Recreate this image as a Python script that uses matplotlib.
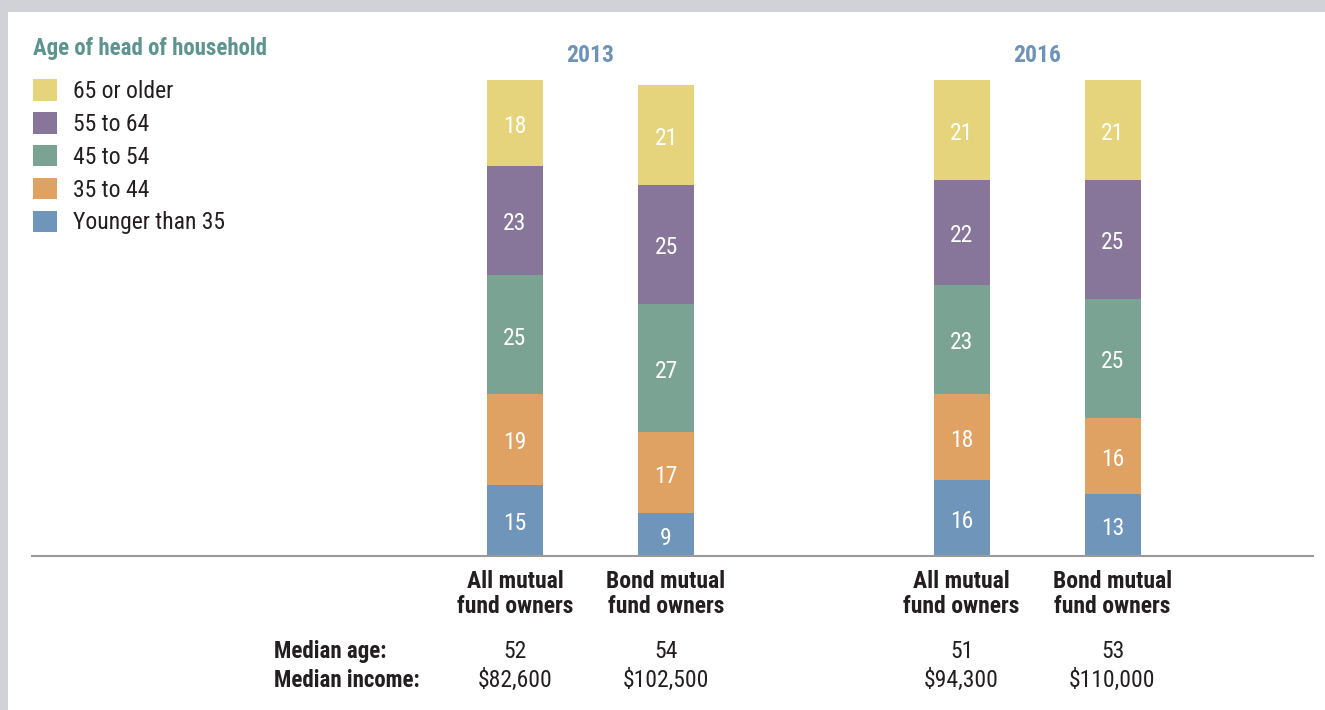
import numpy as np
import matplotlib
matplotlib.use("Agg")
import matplotlib.pyplot as plt
from matplotlib.patches import Rectangle
from matplotlib import font_manager
import matplotlib.transforms as mtransforms

################ Data ################
years = ["2013", "2016"]
groups = ["All mutual\nfund owners", "Bond mutual\nfund owners",
          "All mutual\nfund owners", "Bond mutual\nfund owners"]
age_bands = ["Younger than 35", "35 to 44", "45 to 54", "55 to 64", "65 or older"]
younger_35 = [15, 9, 16, 13]
age_35_44 = [19, 17, 18, 16]
age_45_54 = [25, 27, 23, 25]
age_55_64 = [23, 25, 22, 25]
age_65_up = [18, 21, 21, 21]
median_age = ["52", "54", "51", "53"]
median_income = ["$82,600", "$102,500", "$94,300", "$110,000"]

colors = ["#7095BA", "#E0A263", "#7BA393", "#877699", "#E6D47C"]
DARK = "#231F20"

# pick the narrowest installed family we can find
installed = {f.name for f in font_manager.fontManager.ttflist}
FONT = "Lato"
for cand in ["Liberation Sans Narrow", "DejaVu Sans Condensed", "Roboto Condensed", "Lato"]:
    if cand in installed:
        FONT = cand
        break
plt.rcParams["font.family"] = [FONT, "DejaVu Sans"]
FS = 17

W, H = 1325, 710
fig = plt.figure(figsize=(W / 100, H / 100), dpi=100)
fig.patch.set_facecolor("#D1D2D7")
fig.patches.append(Rectangle((8 / W, 0), 1, 1 - 12 / H, transform=fig.transFigure,
                             facecolor="white", edgecolor="none", zorder=-5))

# axes spans the baseline rule; x in pixel-like units
ax = fig.add_axes([32 / W, (H - 556) / H, (1313 - 32) / W, 476 / H])
ax.set_facecolor("none")
ax.set_xlim(32, 1313)
ax.set_ylim(0, 100)
for s in ["top", "left", "right"]:
    ax.spines[s].set_visible(False)
ax.spines["bottom"].set_color("#9A9A9A")
ax.spines["bottom"].set_linewidth(1.5)
ax.set_yticks([])

group_centers = [590.5, 1037]
offset = 75.5
xpos = np.array([c + d for c in group_centers for d in (-offset, offset)])

series = [younger_35, age_35_44, age_45_54, age_55_64, age_65_up]
bottom = np.zeros(len(xpos))
handles = []
for vals, col, name in zip(series, colors, age_bands):
    vals = np.array(vals, dtype=float)
    b = ax.bar(xpos, vals, width=56, bottom=bottom, color=col, label=name, linewidth=0)
    handles.append(b)
    for x, v, b0 in zip(xpos, vals, bottom):
        ax.annotate(f"{int(v)}", (x, b0 + v / 2), xytext=(0, -2.5),
                    textcoords="offset points", ha="center", va="center",
                    color="white", fontsize=FS)
    bottom += vals

ax.set_xticks(xpos, groups)
ax.tick_params(axis="x", length=0, pad=10, labelsize=FS, colors=DARK)
for lbl in ax.get_xticklabels():
    lbl.set_fontweight("bold")
    lbl.set_linespacing(1.12)

# year headers
tr_year = mtransforms.blended_transform_factory(ax.transData, fig.transFigure)
for c, yr in zip(group_centers, years):
    ax.text(c, 1 - 55 / H, yr, transform=tr_year, ha="center", va="center",
            fontsize=FS, fontweight="bold", color="#6E93B8")

# median rows
fig.text(274 / W, 1 - 658 / H, "Median age:", ha="left", va="baseline",
         fontsize=16.5, fontweight="bold", color=DARK)
fig.text(274 / W, 1 - 687 / H, "Median income:", ha="left", va="baseline",
         fontsize=16.5, fontweight="bold", color=DARK)
for x, a, inc in zip(xpos, median_age, median_income):
    ax.text(x, 1 - 658 / H, a, transform=tr_year, ha="center", va="baseline",
            fontsize=FS, color=DARK)
    ax.text(x, 1 - 687 / H, inc, transform=tr_year, ha="center", va="baseline",
            fontsize=FS, color=DARK)

# legend
leg = fig.legend(handles[::-1], age_bands[::-1], loc="upper left",
                 bbox_to_anchor=(33 / W, 1 - 37 / H), frameon=False,
                 title="Age of head of household", alignment="left",
                 fontsize=FS, handlelength=1.02, handleheight=1.02,
                 labelspacing=0.38, handletextpad=0.68, borderpad=0,
                 borderaxespad=0)
leg.get_title().set_fontsize(16.5)
leg.get_title().set_fontweight("bold")
leg.get_title().set_color("#5E9490")
leg._legend_box.sep = 14
for t in leg.get_texts():
    t.set_color(DARK)

fig.savefig("out.png", dpi=100, facecolor=fig.get_facecolor())
